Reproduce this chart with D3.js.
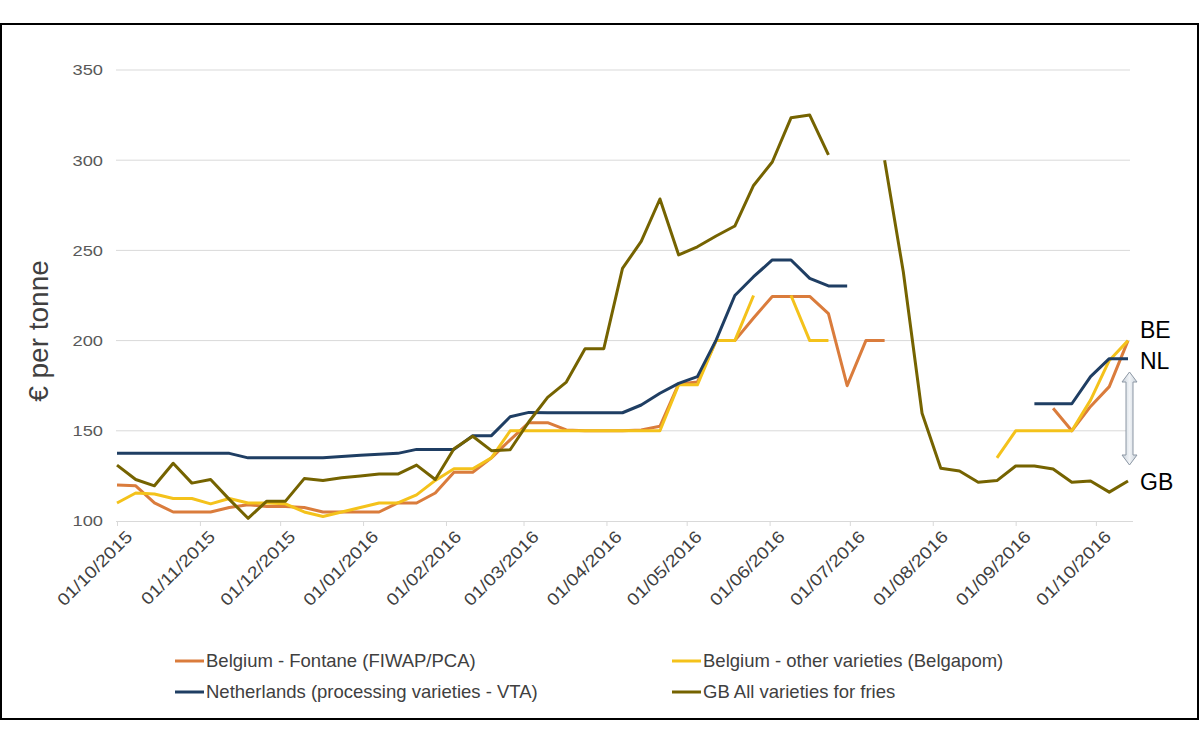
<!DOCTYPE html>
<html>
<head>
<meta charset="utf-8">
<script src="https://cdn.jsdelivr.net/npm/d3@7"></script>
<style>
  body { margin: 0; background: #fff; }
  svg { font-family: "Liberation Sans", Arial, sans-serif; }
</style>
</head>
<body>
<script>
// weekly observations, first week = 01/10/2015
var startDate = new Date(2015, 9, 1);
var weekCount = 55;

var yTicks = [100, 150, 200, 250, 300, 350];

var belgiumFontane = [120, 119.5, 110, 105, 105, 105, 107.5, 109, 108, 108,
  107.5, 105, 105, 105, 105, 110, 110, 115.5, 127, 127,
  135, 145, 154.5, 154.5, 150.5, 150, 150, 150, 150.5, 152.5,
  176, 177, 200, 200, 212.5, 224.5, 224.5, 224.5, 215, 175,
  200, 200, null, null, null, null, null, null, null, null,
  162.5, 150, 163.5, 174.5, 200];

var belgiumOther = [110, 115.5, 115, 112.5, 112.5, 109.5, 112.5, 110, 110, 109.5,
  105, 102.5, 105, 107.5, 110, 110, 114.5, 122.5, 129, 129,
  135, 150, 150, 150, 150, 150, 150, 150, 150, 150,
  175.5, 175.5, 200, 200, 225, null, 225, 200, 200, null,
  null, null, null, null, null, null, null, 135, 150, 150,
  150, 150, 167, 189, 200];

var netherlands = [137.5, 137.5, 137.5, 137.5, 137.5, 137.5, 137.5, 135, 135, 135,
  135, 135, 135.8, 136.5, 137, 137.5, 139.7, 139.7, 139.7, 147.3,
  147.3, 157.8, 160.2, 160, 160, 160, 160, 160, 164.3, 170.8,
  176.3, 180, 200.3, 225, 235.4, 244.7, 244.7, 234.5, 230.3, 230.3,
  null, null, null, null, null, null, null, null, null, 165,
  165, 165, 180, 190, 190];

var gbFries = [131, 123, 119.5, 132, 121, 123, 112, 101.5, 111, 111,
  123.5, 122.5, 124, 125, 126, 126, 131, 123, 140, 147,
  139, 139.5, 155, 168.5, 177, 195.5, 195.5, 240, 255, 278.5,
  247.5, 252, 258, 263.5, 286, 299, 323.5, 325, 303, null,
  null, 300, 238, 159.7, 129.2, 127.7, 121.5, 122.4, 130.5, 130.5,
  128.8, 121.5, 122.2, 116, 122.2];

var seriesNames = ["Belgium - Fontane (FIWAP/PCA)", "Belgium - other varieties (Belgapom)",
  "Netherlands (processing varieties - VTA)", "GB All varieties for fries"];
var seriesColors = ["#DA7C3C", "#F4C21B", "#1F3E63", "#756300"];
var seriesValues = [belgiumFontane, belgiumOther, netherlands, gbFries];

var endLabels = ["BE", "NL", "GB"];
var endLabelY = [338, 369, 490];

var width = 1200, height = 743;

var svg = d3.select("body").append("svg")
  .attr("width", width)
  .attr("height", height);

// outer frame
svg.append("rect")
  .attr("x", 1).attr("y", 24)
  .attr("width", 1197).attr("height", 695)
  .attr("fill", "#fff")
  .attr("stroke", "#000")
  .attr("stroke-width", 2);

var x = d3.scaleTime()
  .domain([startDate, d3.timeDay.offset(startDate, 378)])
  .range([117, 1128]);

var y = d3.scaleLinear()
  .domain([100, 350])
  .range([521, 70]);

var dates = d3.range(weekCount).map(function (i) { return d3.timeDay.offset(startDate, i * 7); });

// tick text in the original is a bit wider than Arial
function widen(sel, k) {
  sel.each(function () {
    var w = this.getComputedTextLength();
    d3.select(this).attr("textLength", w * k).attr("lengthAdjust", "spacingAndGlyphs");
  });
}

// gridlines
svg.append("g").selectAll("line")
  .data(yTicks.slice(1))
  .enter().append("line")
  .attr("x1", 116).attr("x2", 1130)
  .attr("y1", function (d) { return y(d); })
  .attr("y2", function (d) { return y(d); })
  .attr("stroke", "#d9d9d9")
  .attr("stroke-width", 1);

// y axis labels
var yAxis = svg.append("g")
  .attr("transform", "translate(116,0)")
  .call(d3.axisLeft(y).tickValues(yTicks).tickSize(0).tickPadding(13));
yAxis.select(".domain").remove();
yAxis.selectAll("text")
  .attr("font-size", 15)
  .attr("fill", "#595959")
  .attr("font-family", "Liberation Sans, Arial, sans-serif")
  .call(widen, 1.22);

svg.append("text")
  .attr("transform", "translate(48,331) rotate(-90)")
  .attr("text-anchor", "middle")
  .attr("font-size", 28)
  .attr("fill", "#404040")
  .text("€ per tonne");

// x axis
var monthTicks = d3.timeMonth.range(new Date(2015, 9, 1), new Date(2016, 9, 2));
var xAxis = svg.append("g")
  .attr("transform", "translate(0," + y(100) + ")")
  .call(d3.axisBottom(x).tickValues(monthTicks).tickSize(5)
    .tickFormat(d3.timeFormat("%d/%m/%Y")));
xAxis.select(".domain")
  .attr("d", "M116,0.5H1133")
  .attr("stroke", "#d9d9d9");
xAxis.selectAll(".tick line").attr("stroke", "#d9d9d9");
xAxis.selectAll("text")
  .attr("font-size", 17)
  .attr("fill", "#404040")
  .attr("font-family", "Liberation Sans, Arial, sans-serif")
  .attr("text-anchor", "end")
  .attr("dy", "0.35em")
  .attr("transform", "translate(6,7) rotate(-45)")
  .call(widen, 1.15);

// series lines
var line = d3.line()
  .defined(function (d) { return d.v != null; })
  .x(function (d) { return x(d.date); })
  .y(function (d) { return y(d.v); });

seriesValues.forEach(function (vals, k) {
  var pts = vals.map(function (v, i) { return { date: dates[i], v: v }; });
  svg.append("path")
    .datum(pts)
    .attr("d", line)
    .attr("fill", "none")
    .attr("stroke", seriesColors[k])
    .attr("stroke-width", 3)
    .attr("stroke-linejoin", "round");
});

// end labels
svg.append("g").selectAll("text")
  .data(endLabels)
  .enter().append("text")
  .attr("x", 1140)
  .attr("y", function (d, i) { return endLabelY[i]; })
  .attr("font-size", 23)
  .attr("fill", "#000")
  .text(function (d) { return d; });

// double arrow between NL and GB
var defs = svg.append("defs");
var grad = defs.append("linearGradient").attr("id", "arrowFill")
  .attr("x1", "0").attr("x2", "1").attr("y1", "0").attr("y2", "0");
grad.append("stop").attr("offset", "0%").attr("stop-color", "#c9d1da");
grad.append("stop").attr("offset", "50%").attr("stop-color", "#f1f4f7");
grad.append("stop").attr("offset", "100%").attr("stop-color", "#c9d1da");

var ax = 1129.5, aTop = 372, aBot = 465, hw = 7.5, sw = 3.5, hh = 10;
svg.append("path")
  .attr("d", "M" + ax + "," + aTop +
    "L" + (ax + hw) + "," + (aTop + hh) +
    "L" + (ax + sw) + "," + (aTop + hh) +
    "L" + (ax + sw) + "," + (aBot - hh) +
    "L" + (ax + hw) + "," + (aBot - hh) +
    "L" + ax + "," + aBot +
    "L" + (ax - hw) + "," + (aBot - hh) +
    "L" + (ax - sw) + "," + (aBot - hh) +
    "L" + (ax - sw) + "," + (aTop + hh) +
    "L" + (ax - hw) + "," + (aTop + hh) + "Z")
  .attr("fill", "url(#arrowFill)")
  .attr("stroke", "#8c97a4")
  .attr("stroke-width", 1);

// legend
var legendPos = [[175, 661], [672, 661], [175, 692], [672, 692]];
var legend = svg.append("g").selectAll("g")
  .data(seriesNames)
  .enter().append("g")
  .attr("transform", function (d, i) { return "translate(" + legendPos[i][0] + "," + legendPos[i][1] + ")"; });
legend.append("line")
  .attr("x1", 0).attr("x2", 29)
  .attr("stroke", function (d, i) { return seriesColors[i]; })
  .attr("stroke-width", 3);
legend.append("text")
  .attr("x", 31)
  .attr("dy", "0.35em")
  .attr("font-size", 18.5)
  .attr("fill", "#404040")
  .text(function (d) { return d; });
</script>
</body>
</html>
